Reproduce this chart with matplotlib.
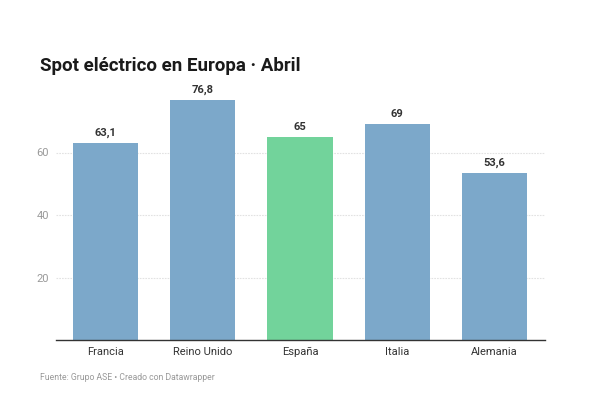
import matplotlib
matplotlib.use("Agg")
import matplotlib.pyplot as plt

categories = ["Francia", "Reino Unido", "España", "Italia", "Alemania"]
values = [63.1, 76.8, 65, 69, 53.6]
labels = ["63,1", "76,8", "65", "69", "53,6"]
highlight = "España"
yticks = [20, 40, 60]

plt.rcParams['font.family'] = ['Roboto', 'DejaVu Sans']

W, H = 600, 395
fig = plt.figure(figsize=(W/100, H/100), dpi=100)
left, right, bottom, top = 56, 545, 340, 90
ax = fig.add_axes([left/W, (H-bottom)/H, (right-left)/W, (bottom-top)/H])

colors = ["#72D39B" if c == highlight else "#7CA8CA" for c in categories]
x = list(range(len(categories)))
ax.bar(x, values, width=0.67, color=colors, zorder=2)
for xi, v, l in zip(x, values, labels):
    ax.text(xi, v + 1.6, l, ha="center", va="bottom", fontsize=8,
            color="#333333", fontweight="semibold")

ax.set_xlim(-0.51, 4.52)
ax.set_ylim(0, 80)
ax.set_yticks(yticks)
ax.set_yticklabels([str(t) for t in yticks], color="#999999", fontsize=8)
ax.tick_params(axis="y", length=0, pad=5)
ax.set_xticks(x)
ax.set_xticklabels(categories, fontsize=8, color="#333333")
ax.tick_params(axis="x", length=0, pad=5)
ax.grid(axis="y", color="#e2e2e2", linestyle=(0, (1.5, 1)), linewidth=0.8, zorder=0)
for s in ["top", "right", "left"]:
    ax.spines[s].set_visible(False)
ax.spines["bottom"].set_color("#333333")
ax.spines["bottom"].set_linewidth(1.0)
ax.spines["bottom"].set_zorder(3)

fig.text(40/W, 1 - 66/H, "Spot eléctrico en Europa · Abril", fontsize=13.5,
         fontweight="bold", color="#1a1a1a", va="center", ha="left")
fig.text(40/W, 1 - 377/H, "Fuente: Grupo ASE • Creado con Datawrapper", fontsize=6.2,
         color="#999999", va="center", ha="left")

fig.savefig("out.png", dpi=100, facecolor="white")
